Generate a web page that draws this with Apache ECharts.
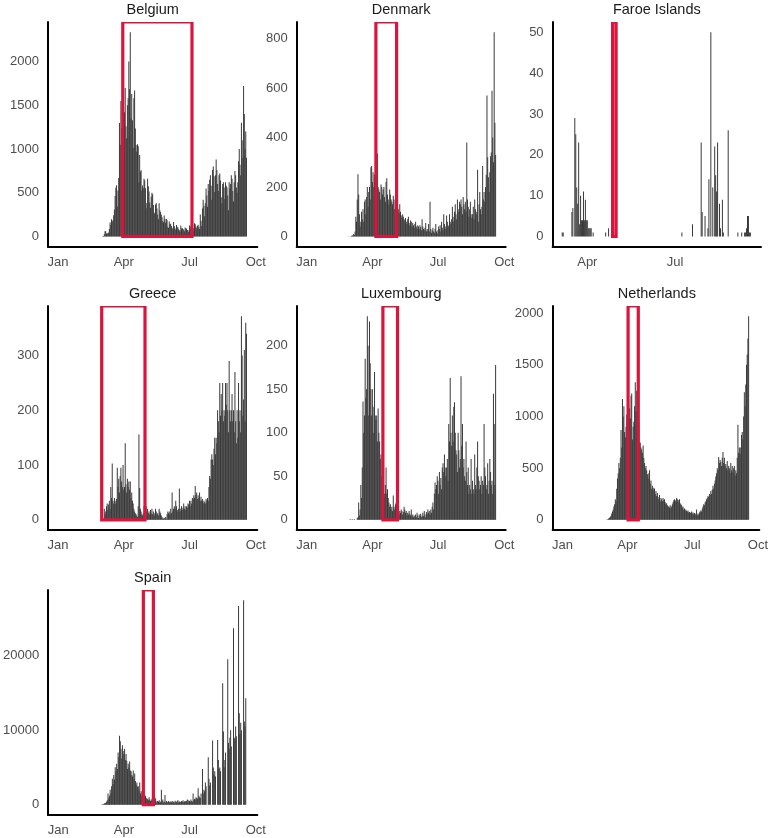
<!DOCTYPE html>
<html><head><meta charset="utf-8">
<script src="https://cdn.jsdelivr.net/npm/echarts@6/dist/echarts.min.js"></script>
<style>html,body{margin:0;padding:0;background:#fff}#c{width:771px;height:838px}</style>
</head><body><div id="c"></div>
<script>
// ---------- DATA (day 0 = 1 Jan 2020) ----------
const countries = ['Belgium', 'Denmark', 'Faroe Islands', 'Greece', 'Luxembourg', 'Netherlands', 'Spain'];
const monthTicks = [0, 91, 182, 274];
const monthLabels = ['Jan', 'Apr', 'Jul', 'Oct'];

const belgiumStart = 60;
const belgiumCases = [
  1,0,6,5,27,59,60,31,39,28,
  47,85,160,130,197,172,185,243,309,462,
  558,586,342,526,668,1298,1049,1550,1240,876,
  1384,1189,1422,1697,1260,1123,1500,1580,2000,1684,
  2336,1351,1629,1329,1013,1580,1670,1236,1045,973,
  1054,1032,620,933,744,757,525,583,553,660,
  642,553,323,384,660,575,514,390,328,455,
  500,482,361,274,261,365,380,320,252,197,
  380,300,279,248,220,178,163,240,200,156,
  200,185,110,97,171,140,146,120,100,82,
  165,120,95,78,130,110,102,82,70,55,
  125,90,97,86,76,61,104,95,88,75,
  70,52,125,90,117,103,88,65,93,150,
  140,112,93,120,135,110,85,250,180,120,
  320,420,350,230,380,550,470,340,600,520,
  650,700,580,420,760,800,690,510,700,880,
  760,600,520,700,720,640,450,380,600,620,
  560,430,620,580,560,470,300,620,550,600,
  700,660,520,400,620,750,700,560,500,620,
  860,1000,820,700,1300,1100,900,1720,1400,1000,
  1200,900
];

const denmarkStart = 57;
const denmarkCases = [
  0,1,0,0,1,2,5,3,10,6,
  20,80,60,150,252,170,90,40,60,100,
  70,110,60,140,150,90,160,200,120,180,
  200,150,280,285,220,260,200,250,180,230,
  260,335,200,190,180,150,210,200,170,190,
  200,160,140,220,235,170,150,130,190,170,
  150,140,130,165,150,110,165,160,130,120,
  110,95,130,100,85,75,90,80,70,65,
  75,60,50,70,80,55,45,65,60,40,
  55,45,35,50,60,40,30,45,40,30,
  45,38,25,70,40,30,25,35,55,20,
  30,25,50,20,140,30,15,25,35,20,
  15,30,50,20,12,25,40,30,45,20,
  60,35,25,90,50,40,30,85,60,45,
  40,90,60,50,70,120,80,60,100,130,
  90,70,150,110,100,140,130,150,120,90,
  160,130,110,140,100,380,150,120,80,110,
  140,90,75,90,120,70,150,110,90,100,
  270,60,130,180,110,90,120,285,150,180,
  140,200,250,570,320,240,180,260,324,340,
  589,400,300,826,460,330
];

const faroeDays = [65,66,75,76,78,79,80,81,82,83,84,85,86,87,88,89,90,91,92,93,94,95,97,110,113,
  189,200,209,210,213,216,217,219,221,223,224,225,226,228,229,231,232,237,247,251,254,255,256,257,258,259,260];
const faroeCases = [1,1,6,7,29,25,12,8,23,3,10,4,4,11,4,9,4,4,2,2,2,2,1,1,2,
  1,3,23,6,5,2,14,50,12,22,15,11,23,8,2,9,1,26,1,1,1,1,2,5,5,1,1];

const greeceStart = 64;
const greeceCases = [
  20,10,15,25,30,18,28,35,20,60,
  40,103,35,30,40,35,30,38,95,60,
  75,50,80,95,70,60,100,55,60,140,
  65,50,75,60,70,55,70,40,50,35,
  30,20,15,12,10,8,5,25,156,58,
  20,15,10,8,12,25,18,10,25,15,
  20,12,15,10,18,12,20,10,15,8,
  12,20,15,10,12,8,20,15,12,8,
  5,3,2,4,3,5,2,10,15,12,
  15,10,20,12,50,15,20,25,20,35,
  25,18,15,20,57,15,20,25,18,22,
  30,20,25,18,25,22,30,28,35,25,
  35,30,40,38,45,40,62,45,50,38,
  45,40,50,35,42,35,38,30,35,32,
  30,38,35,40,35,60,80,75,110,120,
  110,100,130,150,120,150,140,200,180,160,
  250,190,230,200,250,180,200,190,250,210,
  250,200,160,290,200,180,200,230,180,200,
  160,270,180,140,200,150,250,180,200,160,
  372,300,190,220,310,180,360,340
];

const luxembourgStart = 60;
const luxembourgCases = [
  1,0,0,1,0,0,1,0,0,0,
  2,3,20,5,12,40,25,60,136,100,
  120,185,140,150,234,200,120,228,180,150,
  120,150,130,100,170,120,115,120,90,128,
  100,90,70,75,50,40,35,25,30,40,
  60,30,35,25,20,15,18,12,15,10,
  28,15,12,18,20,10,8,12,6,10,
  8,12,10,6,9,15,12,8,10,5,
  8,6,10,7,5,12,4,6,3,5,
  4,6,3,8,5,2,6,4,7,3,
  5,8,4,10,6,3,9,7,12,8,
  10,6,12,8,15,20,12,30,43,35,
  40,50,45,30,55,40,48,35,60,65,
  55,75,60,50,60,70,45,110,90,163,
  100,85,120,90,130,135,100,80,75,55,
  100,80,60,70,165,85,110,60,70,50,
  45,90,55,40,60,30,40,35,70,30,
  45,35,30,75,40,35,60,90,50,45,
  35,40,50,30,45,40,110,60,50,35,
  40,65,30,45,70,55,40,45,30,145,
  110,40,178
];

const netherlandsStart = 59;
const netherlandsCases = [
  1,0,1,2,4,8,15,20,30,40,
  60,80,100,130,150,200,180,300,400,450,
  550,500,600,870,700,1170,1000,1100,850,800,
  900,1020,1000,880,1000,1080,980,1200,1222,778,
  900,950,1100,1331,1050,1250,850,1100,950,750,
  746,700,680,650,720,600,550,500,520,480,
  440,400,450,480,350,380,300,330,290,310,
  300,250,280,230,260,220,200,240,180,210,
  200,180,210,190,200,170,150,160,140,130,
  130,120,140,110,130,150,170,190,200,180,
  190,210,200,170,190,200,160,150,140,120,
  130,100,110,90,100,85,80,90,70,75,
  70,65,80,60,70,55,65,50,60,100,
  45,60,50,70,80,90,80,110,130,150,
  140,170,180,200,210,230,220,250,240,280,
  250,290,330,300,350,380,420,450,500,480,
  608,550,580,560,520,600,656,550,600,520,
  540,500,570,480,520,500,450,550,480,520,
  460,500,520,430,480,450,600,920,650,700,
  640,700,820,850,780,1000,1235,1100,1309,1500,
  1600,1756,1971
];

const spainStart = 31;
const spainCases = [
  1,0,0,0,0,0,0,0,1,0,
  0,0,0,0,0,0,0,0,0,0,
  0,0,0,0,2,4,6,13,15,32,
  45,84,120,165,222,259,400,622,1500,869,
  1200,2000,1500,2500,3500,2800,4000,3400,5045,4500,
  5500,4800,7000,6400,9241,8500,7500,6200,7990,7200,
  6800,7500,6000,6800,5900,4800,5500,5000,5800,4600,
  4500,4000,3800,4600,3500,4200,3200,2700,3000,2400,
  2500,1900,3000,1500,1800,1200,1000,700,900,1200,
  1200,900,700,800,600,1000,700,500,600,800,
  600,500,400,1000,800,300,500,500,400,600,
  300,400,2000,500,700,300,400,1300,300,500,
  400,300,500,350,400,450,300,500,350,400,
  300,550,400,350,500,600,300,450,400,350,
  500,400,600,350,450,500,400,550,700,300,
  600,500,450,700,500,400,1500,600,800,700,
  1000,900,800,2200,1200,1000,900,1500,0,4800,
  1500,2000,1800,3000,2500,0,0,6384,3500,2600,
  3000,0,0,8616,5000,4000,4500,3800,0,0,
  8700,6000,4800,5000,4500,0,0,16295,9821,5000,
  6000,7000,0,0,19509,8300,7500,9000,10000,7800,
  0,0,23660,9000,8800,10500,9200,0,0,26650,
  12277,9500,11000,10000,0,0,27423,11160,10500,14286
];

// red boxes (day numbers)
const lockStart = [89.6, 95.9, 117.2, 60.4, 105.6, 91.9, 118.0];
const lockEnd   = [185.5, 124.6, 120.8, 120.4, 125.9, 106.2, 131.9];

const yTicks = [
  [0, 500, 1000, 1500, 2000],
  [0, 200, 400, 600, 800],
  [0, 10, 20, 30, 40, 50],
  [0, 100, 200, 300],
  [0, 50, 100, 150, 200],
  [0, 500, 1000, 1500, 2000],
  [0, 10000, 20000]
];

// ---------- build series data ----------
function daily(start, arr) { return arr.map((v, i) => [start + i, v]); }
const seriesData = [
  daily(belgiumStart, belgiumCases),
  daily(denmarkStart, denmarkCases),
  faroeDays.map((d, i) => [d, faroeCases[i]]),
  daily(greeceStart, greeceCases),
  daily(luxembourgStart, luxembourgCases),
  daily(netherlandsStart, netherlandsCases),
  daily(spainStart, spainCases)
];

// ---------- LAYOUT ----------
const panels = [
  { left: 48,    top: 22,  width: 209.3, height: 224.7, xMin: -14, xMax: 276, bw: 0.55 },
  { left: 296.7, top: 22,  width: 209,   height: 224.7, xMin: -14, xMax: 276, bw: 0.55 },
  { left: 552.6, top: 22,  width: 208.4, height: 224.7, xMin: 55,  xMax: 271, bw: 0.8 },
  { left: 48,    top: 306, width: 209.3, height: 224,   xMin: -14, xMax: 276, bw: 0.55 },
  { left: 296.7, top: 306, width: 209,   height: 224,   xMin: -14, xMax: 276, bw: 0.55 },
  { left: 552.6, top: 306, width: 208.4, height: 224,   xMin: -14, xMax: 276, bw: 0.55 },
  { left: 48,    top: 590, width: 209.3, height: 225,   xMin: -14, xMax: 276, bw: 0.55 }
];
const FONT = 'Liberation Sans, Arial, sans-serif';
const RED = '#DC143C';
const BAR = '#3a3a3a';
const LABEL = '#4d4d4d';

const grids = [], xAxes = [], yAxes = [], series = [], titles = [];
panels.forEach((p, i) => {
  const vals = seriesData[i].map(d => d[1]);
  const M = Math.max.apply(null, vals);
  const yMin = -0.05 * M, yMax = 1.05 * M;
  const ticks = yTicks[i];
  const step = ticks[1] - ticks[0];
  const xt = monthTicks.filter(t => t >= p.xMin && t <= p.xMax);

  grids.push({ left: p.left, top: p.top, width: p.width, height: p.height, containLabel: false });
  titles.push({
    text: countries[i], left: p.left + p.width / 2, top: p.top - 20, textAlign: 'center', padding: 0,
    textStyle: { fontSize: 14.5, fontWeight: 'normal', color: '#1a1a1a', fontFamily: FONT }
  });
  xAxes.push({
    type: 'value', gridIndex: i, min: p.xMin, max: p.xMax,
    axisLine: { show: true, onZero: false, lineStyle: { color: '#000', width: 2 } },
    axisTick: { show: false }, splitLine: { show: false },
    axisLabel: {
      show: true, customValues: xt, margin: 9, fontSize: 13, color: LABEL, fontFamily: FONT,
      showMinLabel: true, showMaxLabel: true,
      formatter: v => { const k = monthTicks.indexOf(Math.round(v)); return (k >= 0 && Math.abs(v - monthTicks[k]) < 1e-6) ? monthLabels[k] : ''; }
    }
  });
  yAxes.push({
    type: 'value', gridIndex: i, min: yMin, max: yMax, splitNumber: (i === 6 ? 3 : 5),
    axisLine: { show: true, onZero: false, lineStyle: { color: '#000', width: 2 } },
    axisTick: { show: false }, splitLine: { show: false },
    axisLabel: {
      show: true, customValues: ticks, margin: 9, fontSize: 13, color: LABEL, fontFamily: FONT,
      formatter: v => (v >= -1e-9 && Math.abs(v / step - Math.round(v / step)) < 1e-6) ? String(Math.round(v)) : ''
    }
  });
  series.push({
    type: 'bar', xAxisIndex: i, yAxisIndex: i, data: seriesData[i], barWidth: p.bw,
    itemStyle: { color: BAR }, silent: true, animation: false
  });
  series.push({
    type: 'custom', xAxisIndex: i, yAxisIndex: i, z: 10, clip: true, silent: true, animation: false,
    data: [[lockStart[i], lockEnd[i]]],
    renderItem: (params, api) => {
      const a = api.coord([api.value(0), 0]);
      const b = api.coord([api.value(1), yMax]);
      return {
        type: 'rect',
        shape: { x: a[0], y: b[1], width: b[0] - a[0], height: a[1] - b[1] },
        style: { fill: 'none', stroke: RED, lineWidth: 3.2 }
      };
    }
  });
});

const chart = echarts.init(document.getElementById('c'), null, { renderer: 'canvas' });
chart.setOption({
  animation: false,
  backgroundColor: '#fff',
  textStyle: { fontFamily: FONT },
  title: titles, grid: grids, xAxis: xAxes, yAxis: yAxes, series: series
});
</script>
</body></html>
